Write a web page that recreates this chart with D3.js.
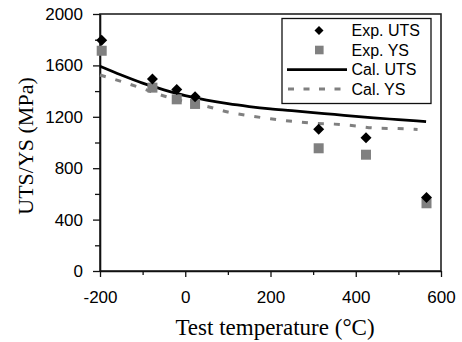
<!DOCTYPE html>
<html>
<head>
<meta charset="utf-8">
<script src="https://cdn.jsdelivr.net/npm/d3@7"></script>
<style>
  body { margin: 0; background: #fff; }
  svg { display: block; }
</style>
</head>
<body>
<svg id="chart" width="462" height="342"></svg>
<script>
// ---- data ----
const expTemps = [-196, -77, -20, 23, 313, 424, 566];
const expUTS = [1795, 1494, 1412, 1356, 1103, 1037, 572];
const expYS = [1714, 1427, 1336, 1300, 955, 905, 527];

const calUTSTemps = [-200, -150, -100, -50, 0, 50, 100, 150, 200, 250, 300, 350, 400, 450, 500, 565];
const calUTS = [1593, 1525, 1462, 1410, 1365, 1330, 1302, 1280, 1262, 1248, 1232, 1218, 1203, 1190, 1178, 1162];

const calYSTemps = [-200, -150, -100, -50, 0, 50, 100, 150, 200, 250, 300, 350, 400, 450, 500, 545];
const calYS = [1525, 1475, 1420, 1362, 1318, 1282, 1237, 1208, 1185, 1165, 1150, 1143, 1129, 1111, 1108, 1102];

const xTicks = [-200, 0, 200, 400, 600];
const xMinorTicks = [-100, 100, 300, 500];
const yTicks = [0, 400, 800, 1200, 1600, 2000];
const yMinorTicks = [200, 600, 1000, 1400, 1800];

const legendLabels = ["Exp. UTS", "Exp. YS", "Cal. UTS", "Cal. YS"];

// ---- layout ----
const svg = d3.select("#chart");
const mLeft = 100, mRight = 441, mTop = 14, mBottom = 271;
const x = d3.scaleLinear().domain([-200, 600]).range([mLeft, mRight]);
const y = d3.scaleLinear().domain([0, 2000]).range([mBottom, mTop]);

const sans = "'Liberation Sans', Arial, sans-serif";
const serif = "'Liberation Serif', 'Times New Roman', serif";
const gray = "#808080";

// frame
svg.append("rect").attr("x", mLeft).attr("y", mTop)
  .attr("width", mRight - mLeft).attr("height", mBottom - mTop)
  .attr("fill", "none").attr("stroke", "#222").attr("stroke-width", 1.6);

// x axis
const xAxis = svg.append("g").attr("transform", `translate(0,${mBottom})`)
  .call(d3.axisBottom(x).tickValues(xTicks).tickSize(6).tickSizeOuter(0).tickPadding(14)
    .tickFormat(d => String(d)));
xAxis.select(".domain").attr("stroke", "#111").attr("stroke-width", 1.6);
xAxis.selectAll(".tick line").attr("stroke", "#111").attr("stroke-width", 1.3);
xAxis.selectAll(".tick text").attr("font-family", sans).attr("font-size", 17).attr("fill", "#000");
svg.append("g").attr("transform", `translate(0,${mBottom})`)
  .call(d3.axisBottom(x).tickValues(xMinorTicks).tickSize(4).tickFormat(""))
  .call(g => g.select(".domain").remove())
  .selectAll(".tick line").attr("stroke", "#111").attr("stroke-width", 1.3);

// y axis
const yAxis = svg.append("g").attr("transform", `translate(${mLeft},0)`)
  .call(d3.axisLeft(y).tickValues(yTicks).tickSize(7).tickSizeOuter(0).tickPadding(10)
    .tickFormat(d => String(d)));
yAxis.select(".domain").attr("stroke", "#111").attr("stroke-width", 1.6);
yAxis.selectAll(".tick line").attr("stroke", "#111").attr("stroke-width", 1.3);
yAxis.selectAll(".tick text").attr("font-family", sans).attr("font-size", 17).attr("fill", "#000");
svg.append("g").attr("transform", `translate(${mLeft},0)`)
  .call(d3.axisLeft(y).tickValues(yMinorTicks).tickSize(5).tickFormat(""))
  .call(g => g.select(".domain").remove())
  .selectAll(".tick line").attr("stroke", "#111").attr("stroke-width", 1.3);

// axis titles
svg.append("text").attr("x", 275).attr("y", 335)
  .attr("text-anchor", "middle").attr("font-family", serif).attr("font-size", 23)
  .text("Test temperature (\u00B0C)");
svg.append("text").attr("transform", "translate(33,146) rotate(-90)")
  .attr("text-anchor", "middle").attr("font-family", serif).attr("font-size", 22)
  .text("UTS/YS (MPa)");

// lines
const line = d3.line().curve(d3.curveMonotoneX);
const utsPts = calUTSTemps.map((t, i) => [x(t), y(calUTS[i])]);
const ysPts = calYSTemps.map((t, i) => [x(t), y(calYS[i])]);

svg.append("path").attr("d", line(ysPts)).attr("fill", "none")
  .attr("stroke", gray).attr("stroke-width", 3).attr("stroke-dasharray", "6,10");
svg.append("path").attr("d", line(utsPts)).attr("fill", "none")
  .attr("stroke", "#000").attr("stroke-width", 2.75);

// markers
function diamond(cx, cy, h) {
  return `M${cx},${cy - h}L${cx + h},${cy}L${cx},${cy + h}L${cx - h},${cy}Z`;
}
svg.append("g").selectAll("rect").data(expTemps).join("rect")
  .attr("x", (d) => x(d) - 5).attr("y", (d, i) => y(expYS[i]) - 5)
  .attr("width", 10).attr("height", 10).attr("fill", gray);
svg.append("g").selectAll("path").data(expTemps).join("path")
  .attr("d", (d, i) => diamond(x(d), y(expUTS[i]), 5.5)).attr("fill", "#000");

// legend
const lg = svg.append("g");
lg.append("rect").attr("x", 282).attr("y", 18.5).attr("width", 149).attr("height", 85)
  .attr("fill", "#fff").attr("stroke", "#111").attr("stroke-width", 1.3);
const rows = [30.5, 50, 69.5, 89];
lg.append("path").attr("d", diamond(319, rows[0], 4.5)).attr("fill", "#000");
lg.append("rect").attr("x", 315).attr("y", rows[1] - 4.3).attr("width", 8.6).attr("height", 8.6).attr("fill", gray);
lg.append("line").attr("x1", 287).attr("x2", 347).attr("y1", rows[2]).attr("y2", rows[2])
  .attr("stroke", "#000").attr("stroke-width", 2.75);
lg.append("line").attr("x1", 288).attr("x2", 347).attr("y1", rows[3]).attr("y2", rows[3])
  .attr("stroke", gray).attr("stroke-width", 3).attr("stroke-dasharray", "6,9.5");
lg.selectAll("text.lab").data(legendLabels).join("text").attr("class", "lab")
  .attr("x", 351.5).attr("y", (d, i) => rows[i]).attr("dominant-baseline", "central")
  .attr("font-family", sans).attr("font-size", 16).attr("fill", "#000").text(d => d);
</script>
</body>
</html>
